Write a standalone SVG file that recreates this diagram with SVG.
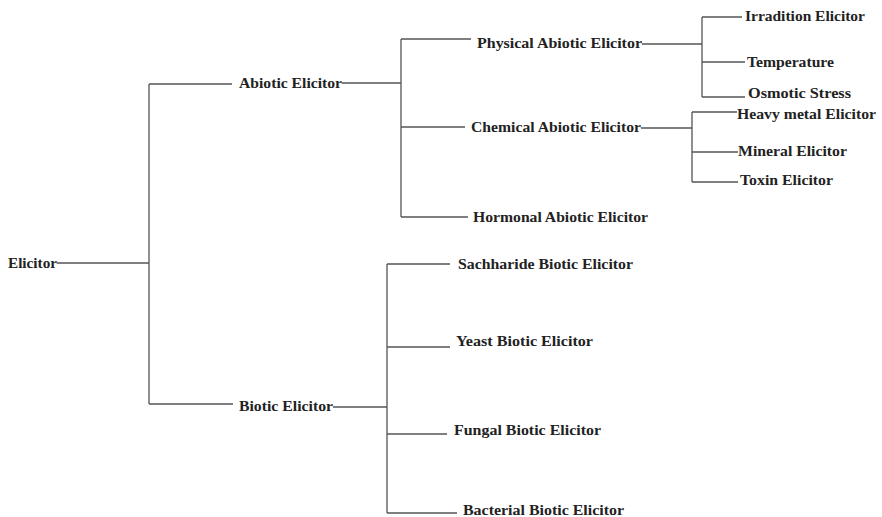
<svg xmlns="http://www.w3.org/2000/svg" width="882" height="517" viewBox="0 0 882 517">
<style>
text{font-family:"Liberation Serif","Times New Roman",serif;font-weight:bold;font-size:15px;fill:#222}
.c path{fill:none;stroke:#555;stroke-width:1.3}
</style>
<rect width="882" height="517" fill="#fff"/>
<g class="c" id="connectors">
<path d="M57 263H149M149 84V404M149 84H232M149 404H233"/>
<path d="M342 83H401M401 39V217M401 39H471M401 127H465M401 217H468"/>
<path d="M642 44H702M702 17V97M702 17H742M702 62H745M702 97H745"/>
<path d="M641 128H692M692 112V182M692 112H737M692 152H738M692 182H738"/>
<path d="M333 407H387M387 264V513M387 264H450M387 347H450M387 434H447M387 513H457"/>
</g>
<g id="n-elicitor"><text x="8" y="268" textLength="49" lengthAdjust="spacingAndGlyphs">Elicitor</text></g>
<g id="n-abiotic"><text x="239" y="88" textLength="103" lengthAdjust="spacingAndGlyphs">Abiotic Elicitor</text></g>
<g id="n-biotic"><text x="239" y="411" textLength="94" lengthAdjust="spacingAndGlyphs">Biotic Elicitor</text></g>
<g id="n-physical"><text x="477" y="48" textLength="165" lengthAdjust="spacingAndGlyphs">Physical Abiotic Elicitor</text></g>
<g id="n-chemical"><text x="471" y="132" textLength="170" lengthAdjust="spacingAndGlyphs">Chemical Abiotic Elicitor</text></g>
<g id="n-hormonal"><text x="473" y="222" textLength="175" lengthAdjust="spacingAndGlyphs">Hormonal Abiotic Elicitor</text></g>
<g id="n-irradition"><text x="745" y="21" textLength="120" lengthAdjust="spacingAndGlyphs">Irradition Elicitor</text></g>
<g id="n-temperature"><text x="747" y="67" textLength="87" lengthAdjust="spacingAndGlyphs">Temperature</text></g>
<g id="n-osmotic"><text x="748" y="98" textLength="103" lengthAdjust="spacingAndGlyphs">Osmotic Stress</text></g>
<g id="n-heavy"><text x="737" y="119" textLength="139" lengthAdjust="spacingAndGlyphs">Heavy metal Elicitor</text></g>
<g id="n-mineral"><text x="738" y="156" textLength="109" lengthAdjust="spacingAndGlyphs">Mineral Elicitor</text></g>
<g id="n-toxin"><text x="740" y="185" textLength="93" lengthAdjust="spacingAndGlyphs">Toxin Elicitor</text></g>
<g id="n-sachharide"><text x="458" y="269" textLength="175" lengthAdjust="spacingAndGlyphs">Sachharide Biotic Elicitor</text></g>
<g id="n-yeast"><text x="456" y="346" textLength="137" lengthAdjust="spacingAndGlyphs">Yeast Biotic Elicitor</text></g>
<g id="n-fungal"><text x="454" y="435" textLength="147" lengthAdjust="spacingAndGlyphs">Fungal Biotic Elicitor</text></g>
<g id="n-bacterial"><text x="463" y="515" textLength="161" lengthAdjust="spacingAndGlyphs">Bacterial Biotic Elicitor</text></g>
</svg>
